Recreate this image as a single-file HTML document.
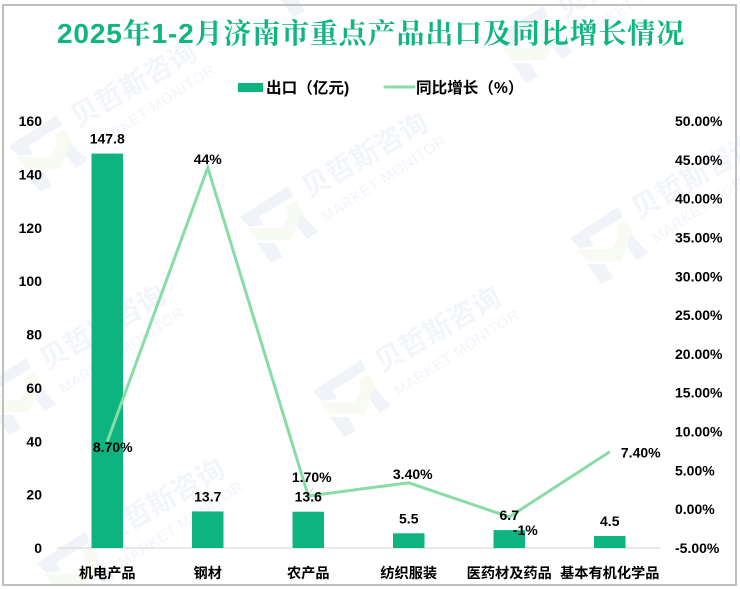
<!DOCTYPE html>
<html lang="zh-CN">
<head>
<meta charset="utf-8">
<title>2025年1-2月济南市重点产品出口及同比增长情况</title>
<style>
html,body{margin:0;padding:0;background:#fff;width:740px;height:589px;overflow:hidden}
svg{display:block}
text{font-family:"Liberation Sans","Noto Sans CJK SC",sans-serif;fill:#000}
.tick,.val{font-size:14px;font-weight:700}
.cat{font-size:14.2px;font-weight:700}
.leg{font-size:15.6px;font-weight:700}
.wm1{font-family:"Noto Sans CJK SC",sans-serif;font-size:28px;font-weight:700;fill:#f2f5fa}
.wm2{font-size:15px;font-weight:400;fill:#f1f4fa;letter-spacing:.6px}
</style>
</head>
<body>
<svg id="chart" width="740" height="589" viewBox="0 0 740 589" xmlns="http://www.w3.org/2000/svg">
  <g id="watermarks"></g>
  <rect x="3" y="5" width="733" height="580" fill="none" stroke="#bfbfbf" stroke-width="2"/>
  <text x="371" y="43" text-anchor="middle" style="font-family:'Liberation Sans','Noto Serif CJK SC',serif;font-size:28px;font-weight:700;fill:#10b582;letter-spacing:.85px">2025年1-2月济南市重点产品出口及同比增长情况</text>
  <g>
    <rect x="238" y="83" width="25" height="9" fill="#0db47f"/>
    <text class="leg" x="266" y="93">出口（亿元)</text>
    <line x1="385" x2="414" y1="87" y2="87" stroke="#88dca6" stroke-width="3" stroke-linecap="round"/>
    <text class="leg" x="416" y="93">同比增长（%）</text>
  </g>
  <g id="axes"></g>
  <g id="bars"></g>
  <g id="line"></g>
  <g id="labels"></g>
</svg>
<script>
const categories = ["机电产品", "钢材", "农产品", "纺织服装", "医药材及药品", "基本有机化学品"];
const exportValues = [147.8, 13.7, 13.6, 5.5, 6.7, 4.5];
const growthValues = [8.7, 44, 1.7, 3.4, -1, 7.4];
const growthLabels = ["8.70%", "44%", "1.70%", "3.40%", "-1%", "7.40%"];
const leftTicks = [0, 20, 40, 60, 80, 100, 120, 140, 160];
const rightTicks = [-5, 0, 5, 10, 15, 20, 25, 30, 35, 40, 45, 50];

const NS = "http://www.w3.org/2000/svg";
const plot = { left: 57, right: 660, top: 121, bottom: 548 };
const step = (plot.right - plot.left) / categories.length;
const xPos = i => plot.left + step * (i + 0.5);
const yLeft = v => plot.bottom - (v / 160) * (plot.bottom - plot.top);
const yRight = v => plot.bottom - ((v + 5) / 55) * (plot.bottom - plot.top);

function make(tag, parent, attrs, txt) {
  const el = document.createElementNS(NS, tag);
  for (const k in attrs) el.setAttribute(k, attrs[k]);
  if (txt !== undefined) el.textContent = txt;
  parent.appendChild(el);
  return el;
}

/* watermark */
function drawWatermarks() {
  const layer = document.getElementById("watermarks");
  const anchors = [[9,115],[240,186],[570,207],[-22,358],[313,360],[37,532],[495,6],[262,-60]];
  const blue = "#f0f4f9", green = "#f8fbf3";
  anchors.forEach(a => {
    const g = make("g", layer, { transform: `translate(${a[0]} ${a[1]})` });
    
    
    make("polygon", g, { points: "0,31 48,0 53,10 19,31 24,39 9,41", fill: blue });
    make("polygon", g, { points: "7,42 42,42 48,29 46,19 57,14 62,26 51,54 17,54", fill: green });
    make("polygon", g, { points: "61,27 78,46 67,53 57,40", fill: blue });
    make("polygon", g, { points: "17,57 35,57 43,71 31,77", fill: blue });
    make("text", g, { class: "wm1", transform: "translate(124 -32) rotate(-30)", "text-anchor": "middle", "dominant-baseline": "central" }, "贝哲斯咨询");
    make("text", g, { class: "wm2", transform: "translate(144 -7) rotate(-33)", "text-anchor": "middle", "dominant-baseline": "central" }, "MARKET MONITOR");
  });
}

/* axes */
function drawAxes() {
  const axes = document.getElementById("axes");
  const base = make("line", axes, { x1: plot.left, x2: plot.right, y1: plot.bottom, y2: plot.bottom, stroke: "#d9d9d9", "stroke-width": 1.2 });
  
  
  leftTicks.forEach(v => {
    const t = make("text", axes, { class: "tick", x: 42, y: yLeft(v) + 5, "text-anchor": "end" }, String(v));
    
    
  });
  rightTicks.forEach(v => {
    const t = make("text", axes, { class: "tick", x: 675, y: yRight(v) + 5 }, v.toFixed(2) + "%");
    
    
  });
  categories.forEach((c, i) => {
    const t = make("text", axes, { class: "cat", x: xPos(i), y: 578, "text-anchor": "middle" }, c);
    
    
  });
}

/* bars */
function drawBars() {
  const bars = document.getElementById("bars");
  const labels = document.getElementById("labels");
  const w = 31.5;
  exportValues.forEach((v, i) => {
    const r = make("rect", bars, { x: xPos(i) - w / 2, y: yLeft(v), width: w, height: plot.bottom - yLeft(v), fill: "#0db47f" });
    
    
    const t = make("text", labels, { class: "val", x: xPos(i), y: yLeft(v) - 10, "text-anchor": "middle" }, String(v));
    
    
  });
}

/* line */
function drawLine() {
  const group = document.getElementById("line");
  const labels = document.getElementById("labels");
  const nudgeX = [5.5, 0, 3.5, 4, 16, 31];
  const nudgeY = [5.5, -8.6, -19, -9, 13, 1];
  const pts = growthValues.map((v, i) => xPos(i) + "," + yRight(v)).join(" ");
  const p = make("polyline", group, { points: pts, fill: "none", stroke: "#88dca6", "stroke-width": 3, "stroke-linejoin": "miter" });
  
  
  const leader = make("line", group, { x1: xPos(2), y1: yRight(growthValues[2]) - 1, x2: xPos(2) + 5, y2: yRight(growthValues[2]) - 8, stroke: "#bfbfbf", "stroke-width": 0.7 });
  
  
  growthValues.forEach((v, i) => {
    const t = make("text", labels, { class: "val", x: xPos(i) + nudgeX[i], y: yRight(v) + nudgeY[i] + 5, "text-anchor": "middle" }, growthLabels[i]);
    
    
  });
}

drawWatermarks();
drawAxes();
drawBars();
drawLine();
</script>
</body>
</html>
